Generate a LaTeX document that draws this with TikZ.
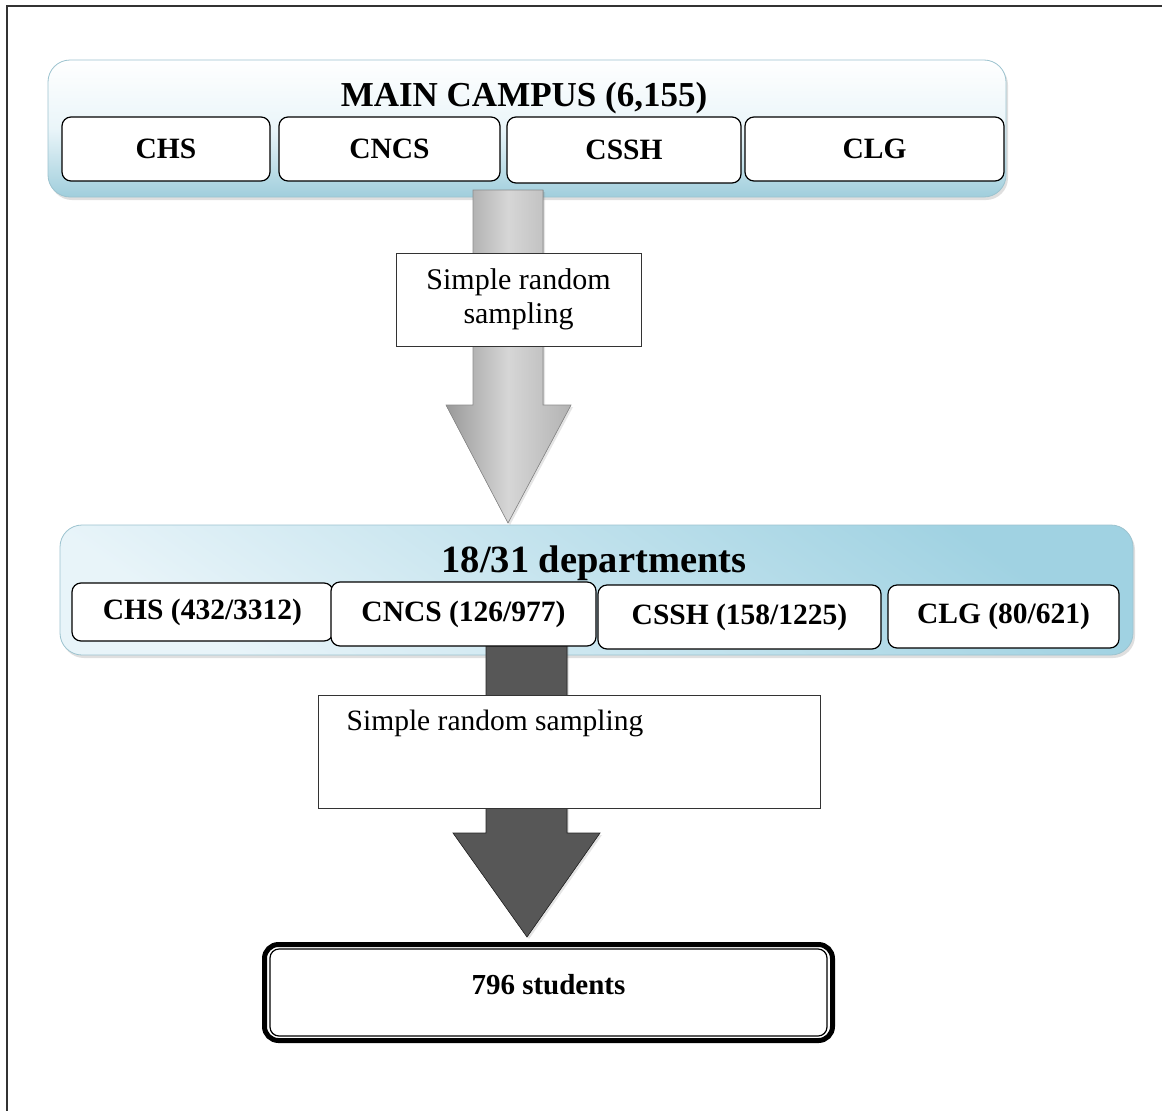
\documentclass[tikz,border=0pt]{standalone}
\usepackage{fontspec}
\setmainfont{Liberation Serif}
\usetikzlibrary{shadows}
\definecolor{contborder}{HTML}{9CC3CF}
\definecolor{frameline}{HTML}{333333}
\begin{document}
\begin{tikzpicture}[x=1pt,y=-1pt,
  container/.style={draw=contborder, line width=0.8pt, rounded corners=22pt,
    drop shadow={shadow xshift=2pt, shadow yshift=-3pt, opacity=0.25}},
  subbox/.style={draw=black, line width=1.2pt, fill=white, rounded corners=9pt,
    font=\fontsize{29.5}{33}\selectfont\bfseries, inner sep=0pt},
  labbox/.style={draw=black!80, line width=1pt, fill=white, inner sep=0pt},
  headtext/.style={font=\bfseries, inner sep=0pt}
]
% background / bounding box
\fill[white] (0,0) rectangle (1162,1111);
\useasboundingbox (0,0) rectangle (1162,1111);
% outer frame (top and left edges visible)
\draw[frameline, line width=2pt] (7,1111) -- (7,6) -- (1162,6);

% containers
\node[container, top color=white, bottom color={rgb,255:red,160;green,206;blue,220},
  middle color={rgb,255:red,234;green,245;blue,249},
  minimum width=958pt, minimum height=137pt] (top) at (527,128.5) {};
\node[container, top color={rgb,255:red,160;green,210;blue,226},
  bottom color={rgb,255:red,232;green,244;blue,249}, shading angle=-35,
  minimum width=1073pt, minimum height=130pt] (mid) at (596.5,590) {};

% arrow 1 (light gray)
\coordinate (a1t) at (508,523);
\fill[left color=black!40, right color=black!30, middle color=black!16,
  drop shadow={shadow xshift=2pt, shadow yshift=-2pt, opacity=0.2}]
  (473,190) -- (543,190) -- (543,405) -- (571,405) -- (a1t) -- (446,405) -- (473,405) -- cycle;
\draw[black!45, line width=0.6pt]
  (473,190) -- (543,190) -- (543,405) -- (571,405) -- (a1t) -- (446,405) -- (473,405) -- cycle;

% arrow 2 (dark gray)
\coordinate (a2t) at (527,937);
\fill[top color=black!66, middle color=black!85, bottom color=black!66,
  drop shadow={shadow xshift=2pt, shadow yshift=-2pt, opacity=0.2}]
  (486,640) -- (567,640) -- (567,833) -- (600,833) -- (a2t) -- (453,833) -- (486,833) -- cycle;
\draw[black!85, line width=0.6pt]
  (486,640) -- (567,640) -- (567,833) -- (600,833) -- (a2t) -- (453,833) -- (486,833) -- cycle;

% headings
\node[headtext, font=\fontsize{35}{38}\selectfont\bfseries] (mainc) at (524,98) {MAIN CAMPUS (6,155)};
\node[headtext, font=\fontsize{38.5}{42}\selectfont\bfseries] (dept) at (594,563) {18/31 departments};

% top sub boxes
\node[subbox, minimum width=208pt, minimum height=64pt] (chs) at (166,149) {CHS};
\node[subbox, minimum width=221pt, minimum height=64pt] (cncs) at (389.5,149) {CNCS};
\node[subbox, minimum width=234pt, minimum height=66pt] (cssh) at (624,150) {CSSH};
\node[subbox, minimum width=259pt, minimum height=64pt] (clg) at (874.5,149) {CLG};

% middle sub boxes
\node[subbox, minimum width=261pt, minimum height=58pt] (chs2) at (202.5,612) {CHS (432/3312)};
\node[subbox, minimum width=265pt, minimum height=64pt] (cncs2) at (463.5,614) {CNCS (126/977)};
\node[subbox, minimum width=283pt, minimum height=64pt] (cssh2) at (739.5,617) {CSSH (158/1225)};
\node[subbox, minimum width=231pt, minimum height=63pt] (clg2) at (1003.5,616.5) {CLG (80/621)};

% label boxes
\node[labbox, minimum width=245pt, minimum height=93pt, align=center,
  font=\fontsize{30}{34}\selectfont] (lab1) at (518.5,299.5) {Simple random\\sampling};
\node[labbox, minimum width=502pt, minimum height=113pt] (lab2) at (569,751.5) {};
\node[anchor=north west, inner sep=0pt, font=\fontsize{29.5}{32}\selectfont]
  (lab2t) at ([xshift=29pt,yshift=-15pt]lab2.north west) {Simple random sampling};

% final box
\node[draw=black, line width=5pt, fill=white, rounded corners=14pt,
  minimum width=568pt, minimum height=96pt] (fin) at (548.5,992.5) {};
\draw[black, line width=1.2pt, rounded corners=9pt]
  ([xshift=8pt,yshift=-7pt]fin.north west) rectangle ([xshift=-8pt,yshift=7pt]fin.south east);
\node[inner sep=0pt, font=\fontsize{29}{32}\selectfont\bfseries] (fint)
  at ([yshift=8pt]fin.center) {796 students};
\end{tikzpicture}
\end{document}
